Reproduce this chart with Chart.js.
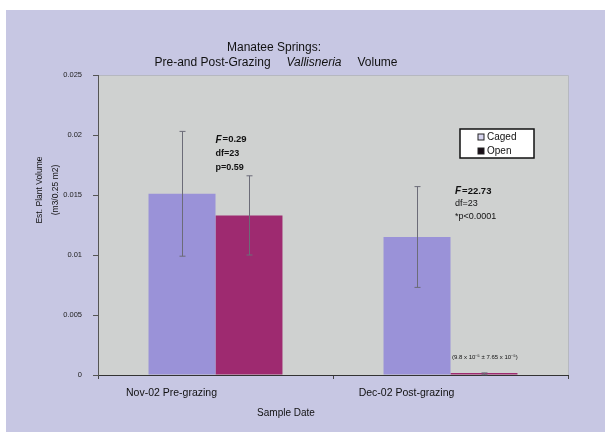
<!DOCTYPE html>
<html>
<head>
<meta charset="utf-8">
<script src="https://cdn.jsdelivr.net/npm/chart.js@4/dist/chart.umd.min.js"></script>
<style>
    html, body { margin: 0; padding: 0; background: #fff; }
    canvas { display: block; }
</style>
</head>
<body>
<canvas id="chart" width="605" height="432"></canvas>
<script>
const categories = ['Nov-02 Pre-grazing', 'Dec-02 Post-grazing'];
const seriesLabels = ['Caged', 'Open'];
const cagedValues = [0.0151, 0.0115];
const cagedErrors = [0.0052, 0.0042];
const openValues = [0.0133, 0.000098];
const openErrors = [0.0033, 0.0000765];
const yTickLabels = ['0', '0.005', '0.01', '0.015', '0.02', '0.025'];
const statNotes = [
    ['=0.29', 'df=23', 'p=0.59'],
    ['=22.73', 'df=23', '*p<0.0001']
];
const tinyNote = '(9.8 x 10\u207B\u2075 \u00B1 7.65 x 10\u207B\u2075)';

const FONT = '"Liberation Sans", Arial, sans-serif';
const cagedColor = '#9a92d8';
const openColor = '#9e2a70';

// background, plot area, title, axis titles, notes, legend
const decorPlugin = {
    id: 'decor',
    beforeDraw(chart) {
        const { ctx, chartArea: a } = chart;
        ctx.save();
        ctx.fillStyle = '#ffffff';
        ctx.fillRect(0, 0, chart.width, chart.height);
        ctx.fillStyle = '#c7c7e3';
        ctx.fillRect(6, 10, chart.width - 6, chart.height - 10);
        ctx.fillStyle = '#cfd1d0';
        ctx.fillRect(a.left, a.top, a.right - a.left, a.bottom - a.top);
        ctx.strokeStyle = '#b6b8c0';
        ctx.lineWidth = 1;
        ctx.beginPath();
        ctx.moveTo(a.left, a.top + 0.5);
        ctx.lineTo(a.right + 0.5, a.top + 0.5);
        ctx.lineTo(a.right + 0.5, a.bottom);
        ctx.stroke();
        ctx.restore();
    },
    afterDraw(chart) {
        const { ctx, scales: { x, y } } = chart;
        ctx.save();
        ctx.fillStyle = '#111';
        ctx.textBaseline = 'middle';

        // title
        ctx.font = '12px ' + FONT;
        ctx.textAlign = 'center';
        ctx.fillText('Manatee Springs:', 274, 48);
        const parts = [
            ['Pre-and Post-Grazing', '12px ' + FONT],
            ['Vallisneria', 'italic 12px ' + FONT],
            ['Volume', '12px ' + FONT]
        ];
        const gap = 16;
        let total = gap * (parts.length - 1);
        parts.forEach(p => { ctx.font = p[1]; total += ctx.measureText(p[0]).width; });
        let tx = 276 - total / 2;
        ctx.textAlign = 'left';
        parts.forEach(p => {
            ctx.font = p[1];
            ctx.fillText(p[0], tx, 63);
            tx += ctx.measureText(p[0]).width + gap;
        });

        // y axis title
        ctx.save();
        ctx.translate(40, 190);
        ctx.rotate(-Math.PI / 2);
        ctx.textAlign = 'center';
        ctx.font = '8.5px ' + FONT;
        ctx.fillText('Est. Plant Volume', 0, 0);
        ctx.fillText('(m3/0.25 m2)', 0, 16);
        ctx.restore();

        // x axis title
        ctx.textAlign = 'center';
        ctx.font = '10px ' + FONT;
        ctx.fillText('Sample Date', 286, 413);

        // stat notes
        const notePos = [
            { dx: 0, v: 0.0196, step: 14 },
            { dx: 4.5, v: 0.01533, step: 12.5 }
        ];
        ctx.textAlign = 'left';
        statNotes.forEach((lines, i) => {
            const px = x.getPixelForValue(i) + notePos[i].dx;
            const py = y.getPixelForValue(notePos[i].v);
            ctx.font = 'bold italic 10px ' + FONT;
            ctx.fillText('F', px, py);
            const fw = ctx.measureText('F').width + 1;
            ctx.font = 'bold 9.5px ' + FONT;
            ctx.fillText(lines[0], px + fw, py);
            ctx.font = (i === 0 ? 'bold ' : '') + '9px ' + FONT;
            ctx.fillText(lines[1], px, py + notePos[i].step);
            ctx.fillText(lines[2], px, py + 2 * notePos[i].step);
        });

        ctx.font = '6px ' + FONT;
        ctx.fillText(tinyNote, x.getPixelForValue(1) + 1.5, y.getPixelForValue(0.0015));

        // legend
        const lx = 460, ly = 129, lw = 74, lh = 29;
        ctx.fillStyle = '#ffffff';
        ctx.fillRect(lx, ly, lw, lh);
        ctx.strokeStyle = '#111';
        ctx.lineWidth = 1.5;
        ctx.strokeRect(lx, ly, lw, lh);
        chart.data.datasets.forEach((ds, i) => {
            const ry = ly + 8 + i * 14;
            ctx.fillStyle = i === 0 ? '#d8d6f0' : '#1a0f18';
            ctx.fillRect(lx + 18, ry - 3, 6, 6);
            ctx.strokeStyle = '#222';
            ctx.lineWidth = 1;
            ctx.strokeRect(lx + 18, ry - 3, 6, 6);
            ctx.fillStyle = '#111';
            ctx.font = '10px ' + FONT;
            ctx.fillText(ds.label, lx + 27, ry + 0.5);
        });
        ctx.restore();
    }
};

// error bars drawn from the scales and bar elements
const errorBarPlugin = {
    id: 'errorBars',
    afterDatasetsDraw(chart) {
        const { ctx, scales: { y } } = chart;
        ctx.save();
        ctx.strokeStyle = '#6c6c78';
        ctx.lineWidth = 1;
        chart.data.datasets.forEach((ds, di) => {
            const meta = chart.getDatasetMeta(di);
            meta.data.forEach((bar, i) => {
                const v = ds.data[i];
                const e = ds.errors[i];
                const top = y.getPixelForValue(v + e);
                const bot = y.getPixelForValue(v - e);
                const bx = Math.round(bar.x) + 0.5;
                ctx.beginPath();
                ctx.moveTo(bx, top);
                ctx.lineTo(bx, bot);
                ctx.moveTo(bx - 3, top);
                ctx.lineTo(bx + 3, top);
                ctx.moveTo(bx - 3, bot);
                ctx.lineTo(bx + 3, bot);
                ctx.stroke();
            });
        });
        ctx.restore();
    }
};

new Chart(document.getElementById('chart'), {
    type: 'bar',
    data: {
        labels: categories,
        datasets: [
            {
                label: seriesLabels[0],
                data: cagedValues,
                errors: cagedErrors,
                backgroundColor: cagedColor,
                categoryPercentage: 0.57,
                barPercentage: 1
            },
            {
                label: seriesLabels[1],
                data: openValues,
                errors: openErrors,
                backgroundColor: openColor,
                categoryPercentage: 0.57,
                barPercentage: 1,
                minBarLength: 2
            }
        ]
    },
    options: {
        responsive: false,
        animation: false,
        devicePixelRatio: 1,
        layout: { padding: { left: 0, right: 37, top: 75, bottom: 0 } },
        plugins: {
            legend: { display: false },
            title: { display: false },
            tooltip: { enabled: false }
        },
        scales: {
            x: {
                afterFit: s => { s.height = 57; },
                grid: { drawOnChartArea: false, tickLength: 4, color: '#444' },
                border: { display: true, color: '#333', width: 1 },
                ticks: {
                    font: { family: FONT, size: 10.5 },
                    color: '#111',
                    padding: 8,
                    labelOffset: -44,
                    maxRotation: 0
                }
            },
            y: {
                min: 0,
                max: 0.025,
                afterFit: s => { s.width = 98; },
                grid: { drawOnChartArea: false, tickLength: 5, color: '#555' },
                border: { display: true, color: '#555', width: 1 },
                ticks: {
                    stepSize: 0.005,
                    font: { family: FONT, size: 7.5 },
                    color: '#222',
                    padding: 11,
                    callback: (v, i) => yTickLabels[i]
                }
            }
        }
    },
    plugins: [decorPlugin, errorBarPlugin]
});
</script>
</body>
</html>
